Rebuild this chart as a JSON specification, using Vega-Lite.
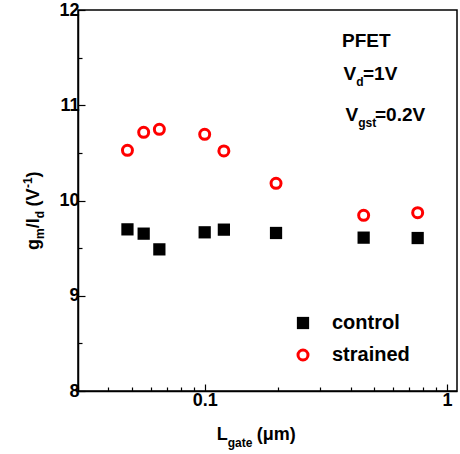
{
  "$schema": "https://vega.github.io/schema/vega-lite/v6.json",
  "width": 379,
  "height": 381,
  "autosize": {"type": "none"},
  "padding": {"left": 78, "top": 10, "right": 3, "bottom": 63},
  "background": "white",
  "config": {
    "view": {"stroke": "black", "strokeWidth": 1.5},
    "font": "Liberation Sans",
    "axis": {
      "domainColor": "black", "domainWidth": 1.5,
      "tickColor": "black", "tickWidth": 1.2,
      "labelFont": "Liberation Sans", "labelFontWeight": "bold", "labelFontSize": 18, "labelColor": "black",
      "grid": false
    },
    "legend": {
      "orient": "none", "legendX": 215, "legendY": 303, "padding": 0,
      "labelFont": "Liberation Sans", "labelFontWeight": "bold", "labelFontSize": 20, "labelColor": "black",
      "labelOffset": 19, "rowPadding": 11
    }
  },
  "data": {"values": [
    {"L": 0.048, "gm": 9.697, "series": "control"},
    {"L": 0.056, "gm": 9.652, "series": "control"},
    {"L": 0.065, "gm": 9.487, "series": "control"},
    {"L": 0.1, "gm": 9.666, "series": "control"},
    {"L": 0.12, "gm": 9.694, "series": "control"},
    {"L": 0.197, "gm": 9.659, "series": "control"},
    {"L": 0.453, "gm": 9.61, "series": "control"},
    {"L": 0.757, "gm": 9.606, "series": "control"},
    {"L": 0.048, "gm": 10.527, "series": "strained"},
    {"L": 0.056, "gm": 10.716, "series": "strained"},
    {"L": 0.065, "gm": 10.747, "series": "strained"},
    {"L": 0.1, "gm": 10.695, "series": "strained"},
    {"L": 0.12, "gm": 10.52, "series": "strained"},
    {"L": 0.197, "gm": 10.18, "series": "strained"},
    {"L": 0.453, "gm": 9.844, "series": "strained"},
    {"L": 0.757, "gm": 9.872, "series": "strained"}
  ]},
  "resolve": {"axis": {"x": "independent", "y": "independent"}},
  "layer": [
    {
      "mark": {"type": "point", "filled": true, "opacity": 1},
      "encoding": {
        "x": {"field": "L", "type": "quantitative",
              "scale": {"type": "log", "domain": [0.03, 1.1], "nice": false},
              "axis": {"orient": "bottom", "values": [0.1, 1], "format": "~g", "title": null, "tickSize": -7, "labelPadding": 7}},
        "y": {"field": "gm", "type": "quantitative",
              "scale": {"domain": [8, 12], "nice": false, "zero": false},
              "axis": {"orient": "left", "values": [8, 9, 10, 11, 12], "title": null, "tickSize": -7, "labelPadding": 6}},
        "shape": {"field": "series", "type": "nominal",
                  "scale": {"domain": ["control", "strained"], "range": ["square", "circle"]},
                  "legend": {"title": null, "encode": {"symbols": {"update": {
                    "size": {"signal": "datum.value === 'control' ? 121 : 45"},
                    "strokeWidth": {"signal": "datum.value === 'control' ? 0 : 2.5"}}}}}},
        "fill": {"field": "series", "type": "nominal",
                 "scale": {"domain": ["control", "strained"], "range": ["black", "white"]}, "legend": {"title": null}},
        "stroke": {"field": "series", "type": "nominal",
                   "scale": {"domain": ["control", "strained"], "range": ["black", "#ff0000"]}, "legend": {"title": null}},
        "strokeWidth": {"field": "series", "type": "nominal",
                        "scale": {"domain": ["control", "strained"], "range": [0, 3]}, "legend": {"title": null}},
        "size": {"field": "series", "type": "nominal",
                 "scale": {"domain": ["control", "strained"], "range": [150, 100]}, "legend": {"title": null}}
      }
    },
    {
      "mark": {"type": "point", "opacity": 0},
      "encoding": {
        "x": {"field": "L", "type": "quantitative",
              "scale": {"type": "log", "domain": [0.03, 1.1], "nice": false},
              "axis": {"orient": "bottom", "values": [0.03, 0.04, 0.05, 0.06, 0.07, 0.08, 0.09, 0.2, 0.3, 0.4, 0.5, 0.6, 0.7, 0.8, 0.9],
                       "labels": false, "domain": false, "title": null, "tickSize": -4}},
        "y": {"field": "gm", "type": "quantitative",
              "scale": {"domain": [8, 12], "nice": false, "zero": false},
              "axis": {"orient": "left", "values": [8.5, 9.5, 10.5, 11.5], "labels": false, "domain": false, "title": null, "tickSize": -4}}
      }
    },
    {
      "data": {"values": [{}]},
      "mark": {"type": "text", "font": "Liberation Sans", "fontWeight": "bold", "fontSize": 19, "align": "left", "baseline": "alphabetic", "color": "black", "text": "PFET"},
      "encoding": {"x": {"datum": 0.3687, "type": "quantitative", "scale": {"type": "log"}, "axis": null}, "y": {"datum": 11.612, "type": "quantitative", "axis": null}}
    },
    {
      "data": {"values": [{}]},
      "mark": {"type": "text", "font": "Liberation Sans", "fontWeight": "bold", "fontSize": 19, "align": "left", "baseline": "alphabetic", "color": "black", "text": "V"},
      "encoding": {"x": {"datum": 0.374, "type": "quantitative", "scale": {"type": "log"}, "axis": null}, "y": {"datum": 11.26, "type": "quantitative", "axis": null}}
    },
    {
      "data": {"values": [{}]},
      "mark": {"type": "text", "font": "Liberation Sans", "fontWeight": "bold", "fontSize": 12, "align": "left", "baseline": "alphabetic", "color": "black", "text": "d", "dx": 12.7, "dy": 6},
      "encoding": {"x": {"datum": 0.374, "type": "quantitative", "scale": {"type": "log"}, "axis": null}, "y": {"datum": 11.26, "type": "quantitative", "axis": null}}
    },
    {
      "data": {"values": [{}]},
      "mark": {"type": "text", "font": "Liberation Sans", "fontWeight": "bold", "fontSize": 19, "align": "left", "baseline": "alphabetic", "color": "black", "text": "=1V", "dx": 19.5},
      "encoding": {"x": {"datum": 0.374, "type": "quantitative", "scale": {"type": "log"}, "axis": null}, "y": {"datum": 11.26, "type": "quantitative", "axis": null}}
    },
    {
      "data": {"values": [{}]},
      "mark": {"type": "text", "font": "Liberation Sans", "fontWeight": "bold", "fontSize": 19, "align": "left", "baseline": "alphabetic", "color": "black", "text": "V"},
      "encoding": {"x": {"datum": 0.3813, "type": "quantitative", "scale": {"type": "log"}, "axis": null}, "y": {"datum": 10.835, "type": "quantitative", "axis": null}}
    },
    {
      "data": {"values": [{}]},
      "mark": {"type": "text", "font": "Liberation Sans", "fontWeight": "bold", "fontSize": 12, "align": "left", "baseline": "alphabetic", "color": "black", "text": "gst", "dx": 12.7, "dy": 6},
      "encoding": {"x": {"datum": 0.3813, "type": "quantitative", "scale": {"type": "log"}, "axis": null}, "y": {"datum": 10.835, "type": "quantitative", "axis": null}}
    },
    {
      "data": {"values": [{}]},
      "mark": {"type": "text", "font": "Liberation Sans", "fontWeight": "bold", "fontSize": 19, "align": "left", "baseline": "alphabetic", "color": "black", "text": "=0.2V", "dx": 29.5},
      "encoding": {"x": {"datum": 0.3813, "type": "quantitative", "scale": {"type": "log"}, "axis": null}, "y": {"datum": 10.835, "type": "quantitative", "axis": null}}
    },
    {
      "data": {"values": [{}]},
      "mark": {"type": "text", "font": "Liberation Sans", "fontWeight": "bold", "fontSize": 18, "align": "left", "baseline": "alphabetic", "color": "black", "text": "L"},
      "encoding": {"x": {"datum": 0.1121, "type": "quantitative", "scale": {"type": "log"}, "axis": null}, "y": {"datum": 7.486, "type": "quantitative", "axis": null}}
    },
    {
      "data": {"values": [{}]},
      "mark": {"type": "text", "font": "Liberation Sans", "fontWeight": "bold", "fontSize": 12, "align": "left", "baseline": "alphabetic", "color": "black", "text": "gate", "dx": 11, "dy": 7},
      "encoding": {"x": {"datum": 0.1121, "type": "quantitative", "scale": {"type": "log"}, "axis": null}, "y": {"datum": 7.486, "type": "quantitative", "axis": null}}
    },
    {
      "data": {"values": [{}]},
      "mark": {"type": "text", "font": "Liberation Sans", "fontWeight": "bold", "fontSize": 18, "align": "left", "baseline": "alphabetic", "color": "black", "text": "(μm)", "dx": 40},
      "encoding": {"x": {"datum": 0.1121, "type": "quantitative", "scale": {"type": "log"}, "axis": null}, "y": {"datum": 7.486, "type": "quantitative", "axis": null}}
    },
    {
      "data": {"values": [{}]},
      "mark": {"type": "text", "font": "Liberation Sans", "fontWeight": "bold", "fontSize": 18, "align": "left", "baseline": "alphabetic", "color": "black", "angle": 270, "text": "g"},
      "encoding": {"x": {"datum": 0.0207, "type": "quantitative", "scale": {"type": "log"}, "axis": null}, "y": {"datum": 9.48, "type": "quantitative", "axis": null}}
    },
    {
      "data": {"values": [{}]},
      "mark": {"type": "text", "font": "Liberation Sans", "fontWeight": "bold", "fontSize": 12, "align": "left", "baseline": "alphabetic", "color": "black", "angle": 270, "text": "m", "dx": 11, "dy": 5},
      "encoding": {"x": {"datum": 0.0207, "type": "quantitative", "scale": {"type": "log"}, "axis": null}, "y": {"datum": 9.48, "type": "quantitative", "axis": null}}
    },
    {
      "data": {"values": [{}]},
      "mark": {"type": "text", "font": "Liberation Sans", "fontWeight": "bold", "fontSize": 18, "align": "left", "baseline": "alphabetic", "color": "black", "angle": 270, "text": "/I", "dx": 21.7},
      "encoding": {"x": {"datum": 0.0207, "type": "quantitative", "scale": {"type": "log"}, "axis": null}, "y": {"datum": 9.48, "type": "quantitative", "axis": null}}
    },
    {
      "data": {"values": [{}]},
      "mark": {"type": "text", "font": "Liberation Sans", "fontWeight": "bold", "fontSize": 12, "align": "left", "baseline": "alphabetic", "color": "black", "angle": 270, "text": "d", "dx": 31.7, "dy": 5},
      "encoding": {"x": {"datum": 0.0207, "type": "quantitative", "scale": {"type": "log"}, "axis": null}, "y": {"datum": 9.48, "type": "quantitative", "axis": null}}
    },
    {
      "data": {"values": [{}]},
      "mark": {"type": "text", "font": "Liberation Sans", "fontWeight": "bold", "fontSize": 18, "align": "left", "baseline": "alphabetic", "color": "black", "angle": 270, "text": "(V", "dx": 43.5},
      "encoding": {"x": {"datum": 0.0207, "type": "quantitative", "scale": {"type": "log"}, "axis": null}, "y": {"datum": 9.48, "type": "quantitative", "axis": null}}
    },
    {
      "data": {"values": [{}]},
      "mark": {"type": "text", "font": "Liberation Sans", "fontWeight": "bold", "fontSize": 12, "align": "left", "baseline": "alphabetic", "color": "black", "angle": 270, "text": "-1", "dx": 62, "dy": -7},
      "encoding": {"x": {"datum": 0.0207, "type": "quantitative", "scale": {"type": "log"}, "axis": null}, "y": {"datum": 9.48, "type": "quantitative", "axis": null}}
    },
    {
      "data": {"values": [{}]},
      "mark": {"type": "text", "font": "Liberation Sans", "fontWeight": "bold", "fontSize": 18, "align": "left", "baseline": "alphabetic", "color": "black", "angle": 270, "text": ")", "dx": 72.5},
      "encoding": {"x": {"datum": 0.0207, "type": "quantitative", "scale": {"type": "log"}, "axis": null}, "y": {"datum": 9.48, "type": "quantitative", "axis": null}}
    }
  ]
}
